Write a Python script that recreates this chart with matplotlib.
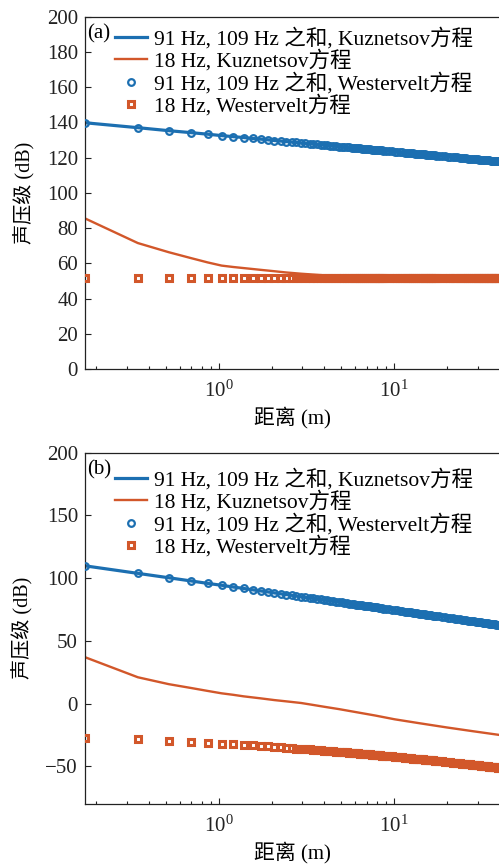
import numpy as np
import matplotlib
matplotlib.use('Agg')
import matplotlib.pyplot as plt

plt.rcParams['font.family'] = ['Liberation Serif', 'Noto Sans CJK SC']
plt.rcParams['mathtext.fontset'] = 'stix'
plt.rcParams['axes.unicode_minus'] = True

BLUE = '#1c6fb1'
RED = '#d2572a'

# distance grid used by the solver: multiples of dx (m)
dx = 0.1733
grid_index = list(range(1, 51)) + list(range(52, 101, 2)) + list(range(104, 229, 4))

# (a) sum of 91 Hz and 109 Hz, both equations give the same level (dB)
sum_level_a = [
    139.8, 137.0, 135.3, 134.2, 133.3, 132.5, 131.9, 131.4, 130.9, 130.5,
    130.1, 129.7, 129.4, 129.1, 128.8, 128.6, 128.3, 128.1, 127.9, 127.7,
    127.5, 127.3, 127.1, 126.9, 126.8, 126.6, 126.5, 126.3, 126.2, 126.0,
    125.9, 125.8, 125.7, 125.5, 125.4, 125.3, 125.2, 125.1, 125.0, 124.9,
    124.8, 124.7, 124.6, 124.5, 124.4, 124.3, 124.2, 124.1, 124.1, 124.0,
    123.8, 123.7, 123.5, 123.4, 123.2, 123.1, 123.0, 122.9, 122.7, 122.6,
    122.5, 122.4, 122.3, 122.2, 122.1, 122.0, 121.9, 121.8, 121.7, 121.6,
    121.5, 121.4, 121.3, 121.3, 121.2,
    121.0, 120.9, 120.7, 120.6, 120.4, 120.3, 120.2, 120.1, 119.9, 119.8,
    119.7, 119.6, 119.5, 119.4, 119.3, 119.2, 119.1, 119.0, 118.9, 118.8,
    118.7, 118.6, 118.5, 118.5, 118.4, 118.3, 118.2, 118.1, 118.1, 118.0,
    117.9, 117.9,
]
# (b)
sum_level_b = [
    109.8, 103.8, 100.3, 97.8, 95.8, 94.3, 92.9, 91.8, 90.7, 89.8,
    89.0, 88.2, 87.5, 86.9, 86.3, 85.7, 85.2, 84.7, 84.2, 83.8,
    83.4, 83.0, 82.6, 82.2, 81.9, 81.5, 81.2, 80.9, 80.6, 80.3,
    80.0, 79.7, 79.5, 79.2, 78.9, 78.7, 78.5, 78.2, 78.0, 77.8,
    77.6, 77.4, 77.2, 77.0, 76.8, 76.6, 76.4, 76.2, 76.0, 75.8,
    75.5, 75.2, 74.9, 74.6, 74.3, 74.0, 73.7, 73.4, 73.2, 72.9,
    72.7, 72.4, 72.2, 72.0, 71.8, 71.5, 71.3, 71.1, 70.9, 70.7,
    70.5, 70.4, 70.2, 70.0, 69.8,
    69.5, 69.2, 68.8, 68.5, 68.2, 68.0, 67.7, 67.4, 67.1, 66.9,
    66.6, 66.4, 66.2, 65.9, 65.7, 65.5, 65.3, 65.1, 64.9, 64.7,
    64.5, 64.3, 64.2, 64.0, 63.8, 63.6, 63.5, 63.3, 63.1, 63.0,
    62.8, 62.7,
]

# 18 Hz difference frequency, Westervelt
wv18_level_a = 51.4
wv18_level_b = [
    -27.1, -28.6, -29.6, -30.5, -31.2, -31.8, -32.4, -32.9, -33.3, -33.8,
    -34.1, -34.5, -34.8, -35.2, -35.5, -35.8, -36.0, -36.3, -36.5, -36.8,
    -37.0, -37.2, -37.4, -37.7, -37.8, -38.0, -38.2, -38.4, -38.6, -38.8,
    -38.9, -39.1, -39.3, -39.4, -39.6, -39.7, -39.9, -40.0, -40.1, -40.3,
    -40.4, -40.5, -40.7, -40.8, -40.9, -41.0, -41.1, -41.3, -41.4, -41.5,
    -41.7, -41.9, -42.1, -42.3, -42.5, -42.7, -42.9, -43.1, -43.3, -43.4,
    -43.6, -43.8, -43.9, -44.1, -44.2, -44.4, -44.5, -44.7, -44.8, -44.9,
    -45.1, -45.2, -45.3, -45.5, -45.6,
    -45.9, -46.1, -46.3, -46.5, -46.8, -47.0, -47.2, -47.4, -47.6, -47.8,
    -48.0, -48.1, -48.3, -48.5, -48.7, -48.8, -49.0, -49.1, -49.3, -49.5,
    -49.6, -49.8, -49.9, -50.0, -50.2, -50.3, -50.5, -50.6, -50.7, -50.9,
    -51.0, -51.1,
]

# 18 Hz difference frequency, Kuznetsov
kz18_index = [1, 2, 3, 4, 5, 6, 7, 8, 10, 12, 14, 17, 20, 23, 28, 35, 45, 58, 80, 115, 160, 230]
kz18_level_a = [85.5, 71.5, 66.3, 63.0, 60.5, 58.7, 57.9, 57.3, 56.3, 55.5, 54.8,
                54.1, 53.6, 53.2, 52.8, 52.4, 52.1, 51.95, 51.85, 51.8, 51.7, 51.7]
kz18_level_b = [37.0, 21.0, 15.5, 12.5, 10.1, 8.2, 7.0, 5.8, 4.2, 2.8, 1.8,
                0.5, -1.1, -2.5, -4.4, -6.8, -9.5, -12.5, -15.6, -19.0, -21.9, -25.0]

labels = ['91 Hz, 109 Hz 之和, Kuznetsov方程', '18 Hz, Kuznetsov方程',
          '91 Hz, 109 Hz 之和, Westervelt方程', '18 Hz, Westervelt方程']


def draw_panel(ax, tag, sum_level, kz18_level, wv18_level, ylim, yticks, legend_top):
    dist = dx * np.array(grid_index)
    kz_dist = dx * np.array(kz18_index)
    wv18 = np.broadcast_to(np.asarray(wv18_level, dtype=float), dist.shape)

    ax.plot(dist, sum_level, '-', color=BLUE, lw=2.3, label=labels[0], zorder=2)
    ax.plot(kz_dist, kz18_level, '-', color=RED, lw=1.7, label=labels[1], zorder=2)
    ax.plot(dist, sum_level, 'o', ls='none', color=BLUE, ms=4.8, mew=1.6,
            mfc='none', label=labels[2], zorder=3)
    ax.plot(dist, wv18, 's', ls='none', color=RED, ms=3.8, mew=2.2,
            mfc='none', label=labels[3], zorder=3)

    ax.set_xscale('log')
    ax.set_xlim(dx, 40)
    ax.set_ylim(*ylim)
    ax.set_yticks(yticks)
    ax.set_xlabel('距离 (m)', fontsize=15, labelpad=4)
    ax.set_ylabel('声压级 (dB)', fontsize=14.5, labelpad=9)
    ax.tick_params(which='both', direction='in', labelsize=15, top=False, right=False,
                   width=0.8, colors='#222222')
    ax.tick_params(which='major', length=4, pad=5)
    ax.tick_params(axis='x', which='major', pad=8)
    ax.tick_params(which='minor', length=2.2)
    for s in ax.spines.values():
        s.set_linewidth(0.9)
        s.set_color('#222222')

    ax.text(0.006, 0.978, tag, transform=ax.transAxes, fontsize=15, va='top', ha='left')
    ax.legend(loc='upper left', bbox_to_anchor=(0.072, legend_top), frameon=False, fontsize=15.5,
              borderpad=0, borderaxespad=0, labelspacing=0.02, handlelength=1.5,
              handletextpad=0.3, numpoints=1)


fig = plt.figure(figsize=(4.99, 8.66), dpi=100)
ax_a = fig.add_axes([0.1703, 0.5739, 0.8317, 0.4068])
ax_b = fig.add_axes([0.1703, 0.0716, 0.8317, 0.4057])

draw_panel(ax_a, '(a)', sum_level_a, kz18_level_a, wv18_level_a, (0, 200),
           np.arange(0, 201, 20), 0.969)
draw_panel(ax_b, '(b)', sum_level_b, kz18_level_b, wv18_level_b, (-80, 200),
           np.arange(-50, 201, 50), 0.954)

fig.savefig('out.png', dpi=100)
